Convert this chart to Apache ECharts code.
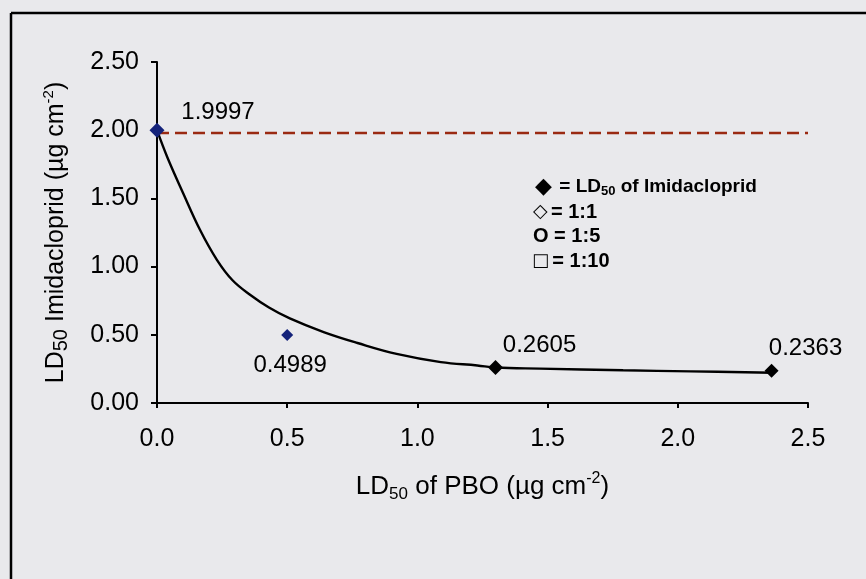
<!DOCTYPE html>
<html>
<head>
<meta charset="utf-8">
<script src="https://cdn.jsdelivr.net/npm/echarts@6/dist/echarts.min.js"></script>
<style>
html,body{margin:0;padding:0;background:#e9e9ec;}
#chart{width:866px;height:579px;}
</style>
</head>
<body>
<div id="chart"></div>
<script>
// ---- data ----
var pointX = [0, 0.5, 1.3, 2.36];
var pointY = [1.9997, 0.4989, 0.2605, 0.2363];
var curveX = [0, 0.04, 0.10, 0.165, 0.23, 0.29, 0.36, 0.43, 0.51, 0.64, 0.77, 0.92, 1.09, 1.23, 1.30, 1.47, 1.79, 2.05, 2.365];
var curveY = [2.00, 1.80, 1.54, 1.27, 1.05, 0.90, 0.79, 0.70, 0.62, 0.52, 0.44, 0.36, 0.30, 0.275, 0.26, 0.252, 0.24, 0.232, 0.222];
var refX = [0, 2.5];
var refY = [1.98, 1.98];
var xTicks = [0.0, 0.5, 1.0, 1.5, 2.0, 2.5];
var yTicks = [0.00, 0.50, 1.00, 1.50, 2.00, 2.50];

// ---- styling (not data) ----
var pointColors = ['#14227a', '#14227a', '#000000', '#000000'];
var pointSizes = [15, 12, 15, 14];
var labelOffsets = [[61, -18], [3, 30], [44, -22], [34, -22]];

var FONT = '"Liberation Sans", Arial, sans-serif';

var chart = echarts.init(document.getElementById('chart'), null, {renderer: 'canvas'});

var curveData = curveX.map(function (x, i) { return [x, curveY[i]]; });
var refData = refX.map(function (x, i) { return [x, refY[i]]; });
var pointData = pointX.map(function (x, i) {
  return {
    value: [x, pointY[i]],
    symbolSize: pointSizes[i],
    itemStyle: {color: pointColors[i], opacity: 1},
    label: {show: true, position: 'inside', offset: labelOffsets[i]}
  };
});

var option = {
  backgroundColor: '#e9e9ec',
  animation: false,
  grid: {left: 157, right: 58, top: 62, bottom: 176, containLabel: false},
  xAxis: {
    type: 'value',
    min: xTicks[0], max: xTicks[xTicks.length - 1], interval: 0.5,
    splitLine: {show: false},
    axisLine: {onZero: false, lineStyle: {color: '#000', width: 2}},
    axisTick: {show: true, length: 5, lineStyle: {color: '#000', width: 2}},
    axisLabel: {
      margin: 24, color: '#000', fontSize: 25, fontFamily: FONT,
      formatter: function (v) { return v.toFixed(1); }
    },
    name: '{n|LD}{s|50}{n| of PBO (µg cm}{p|-2}{n|)}',
    nameLocation: 'middle',
    nameGap: 68,
    nameTextStyle: {
      color: '#000', fontFamily: FONT,
      rich: {
        n: {fontSize: 26, color: '#000', fontFamily: FONT, lineHeight: 32},
        s: {fontSize: 17, color: '#000', fontFamily: FONT, verticalAlign: 'bottom', lineHeight: 24},
        p: {fontSize: 16, color: '#000', fontFamily: FONT, verticalAlign: 'top', lineHeight: 20}
      }
    }
  },
  yAxis: {
    type: 'value',
    min: yTicks[0], max: yTicks[yTicks.length - 1], interval: 0.5,
    splitLine: {show: false},
    axisLine: {show: true, onZero: false, lineStyle: {color: '#000', width: 2}},
    axisTick: {show: true, length: 6, lineStyle: {color: '#000', width: 2}},
    axisLabel: {
      margin: 18, color: '#000', fontSize: 25, fontFamily: FONT,
      formatter: function (v) { return v.toFixed(2); }
    },
    name: '{n|LD}{s|50}{n| Imidacloprid (µg cm}{p|-2}{n|)}',
    nameLocation: 'middle',
    nameRotate: 90,
    nameGap: 86,
    nameTextStyle: {
      color: '#000', fontFamily: FONT,
      rich: {
        n: {fontSize: 25, color: '#000', fontFamily: FONT, lineHeight: 30},
        s: {fontSize: 20, color: '#000', fontFamily: FONT, verticalAlign: 'bottom', lineHeight: 24},
        p: {fontSize: 15, color: '#000', fontFamily: FONT, verticalAlign: 'top', lineHeight: 18}
      }
    }
  },
  series: [
    {
      type: 'line',
      data: refData,
      symbol: 'none',
      lineStyle: {color: '#9a2a12', width: 2.5, type: [12, 6]},
      silent: true,
      z: 2
    },
    {
      type: 'line',
      data: curveData,
      symbol: 'none',
      smooth: 0.4,
      lineStyle: {color: '#000', width: 2.4},
      silent: true,
      z: 3
    },
    {
      type: 'scatter',
      data: pointData,
      symbol: 'diamond',
      z: 4,
      label: {
        color: '#000', fontSize: 24, fontFamily: FONT,
        formatter: function (p) { return p.value[1].toFixed(4); }
      }
    }
  ],
  graphic: [
    {type: 'line', shape: {x1: 11, y1: 13, x2: 866, y2: 13}, style: {stroke: '#000', lineWidth: 2.5}, silent: true},
    {type: 'line', shape: {x1: 11, y1: 13, x2: 11, y2: 579}, style: {stroke: '#000', lineWidth: 2.5}, silent: true},
    {
      type: 'text', left: 535, top: 176,
      style: {
        text: '{d|◆} {b|= LD}{bs|50}{b| of Imidacloprid}',
        rich: {
          d: {fontSize: 22, fill: '#000', fontFamily: '"DejaVu Sans", sans-serif', padding: [0, 4, 0, 0]},
          b: {fontSize: 19, fontWeight: 'bold', fill: '#000', fontFamily: FONT},
          bs: {fontSize: 13, fontWeight: 'bold', fill: '#000', fontFamily: FONT, verticalAlign: 'bottom', lineHeight: 18}
        }
      }
    },
    {
      type: 'text', left: 533, top: 202,
      style: {
        text: '{d|◇} {b|= 1:1}',
        rich: {
          d: {fontSize: 19, fill: '#000', fontFamily: '"DejaVu Sans", sans-serif'},
          b: {fontSize: 20, fontWeight: 'bold', fill: '#000', fontFamily: FONT}
        }
      }
    },
    {
      type: 'text', left: 533, top: 226,
      style: {
        text: '{b|O = 1:5}',
        rich: {
          b: {fontSize: 20, fontWeight: 'bold', fill: '#000', fontFamily: FONT}
        }
      }
    },
    {
      type: 'text', left: 532, top: 251,
      style: {
        text: '{d|□} {b|= 1:10}',
        rich: {
          d: {fontSize: 18, fill: '#000', fontFamily: '"DejaVu Sans", sans-serif'},
          b: {fontSize: 20, fontWeight: 'bold', fill: '#000', fontFamily: FONT}
        }
      }
    }
  ]
};
chart.setOption(option);
</script>
</body>
</html>
